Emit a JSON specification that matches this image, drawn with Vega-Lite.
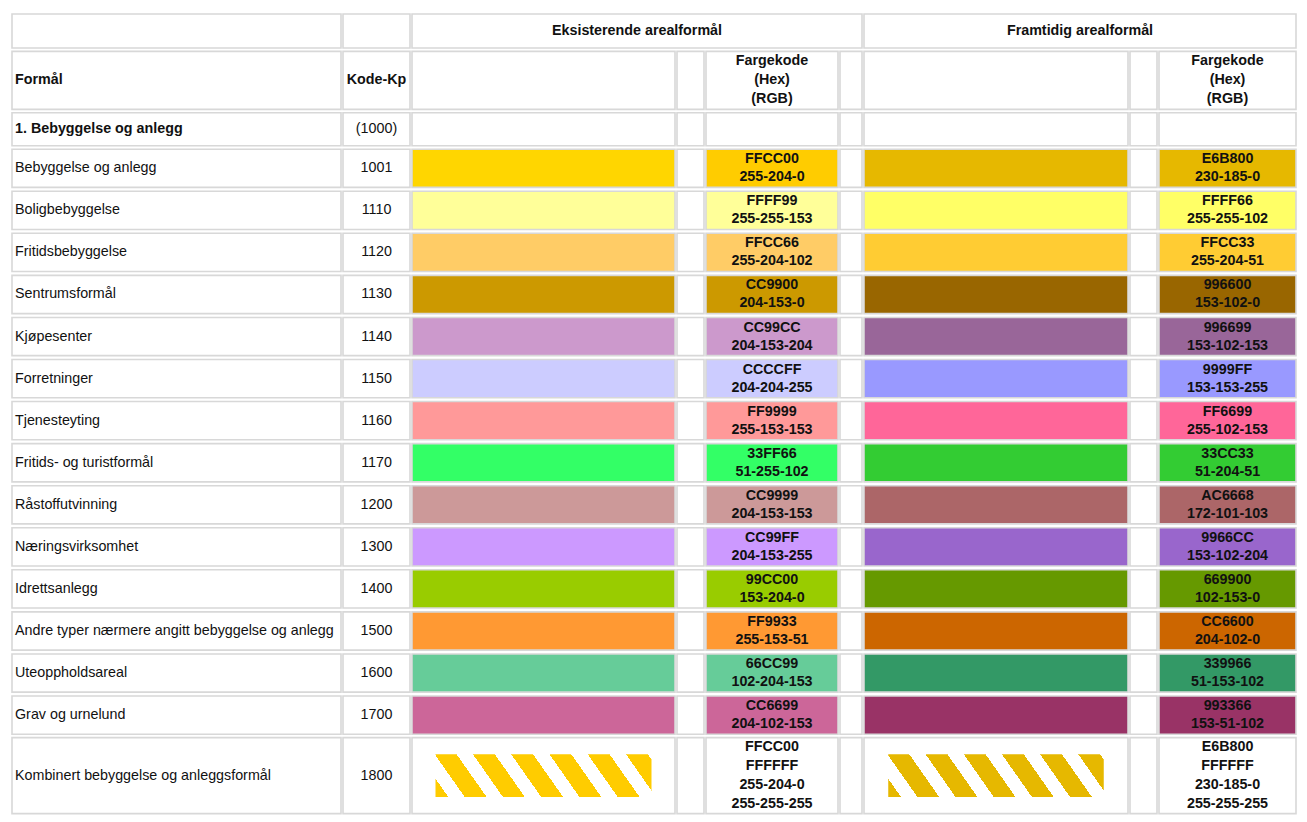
{
  "$schema": "https://vega.github.io/schema/vega-lite/v6.json",
  "background": "#ffffff",
  "padding": {"left": 11, "top": 13, "right": 0, "bottom": 0},
  "config": {
    "view": {"stroke": null},
    "text": {"font": "Liberation Sans", "fontSize": 14.3, "color": "#111111"}
  },
  "datasets": {
    "head": [{"formal": "Formål", "kode": "Kode-Kp", "eks": "Eksisterende arealformål", "fram": "Framtidig arealformål", "farge": ["Fargekode", "(Hex)", "(RGB)"]}],
    "section": [{"formal": "1. Bebyggelse og anlegg", "kode": "(1000)"}],
    "rows": [
      {"formal": "Bebyggelse og anlegg", "kode": "1001", "eks": "FFCC00", "eks_rgb": "255-204-0", "fram": "E6B800", "fram_rgb": "230-185-0"},
      {"formal": "Boligbebyggelse", "kode": "1110", "eks": "FFFF99", "eks_rgb": "255-255-153", "fram": "FFFF66", "fram_rgb": "255-255-102"},
      {"formal": "Fritidsbebyggelse", "kode": "1120", "eks": "FFCC66", "eks_rgb": "255-204-102", "fram": "FFCC33", "fram_rgb": "255-204-51"},
      {"formal": "Sentrumsformål", "kode": "1130", "eks": "CC9900", "eks_rgb": "204-153-0", "fram": "996600", "fram_rgb": "153-102-0"},
      {"formal": "Kjøpesenter", "kode": "1140", "eks": "CC99CC", "eks_rgb": "204-153-204", "fram": "996699", "fram_rgb": "153-102-153"},
      {"formal": "Forretninger", "kode": "1150", "eks": "CCCCFF", "eks_rgb": "204-204-255", "fram": "9999FF", "fram_rgb": "153-153-255"},
      {"formal": "Tjenesteyting", "kode": "1160", "eks": "FF9999", "eks_rgb": "255-153-153", "fram": "FF6699", "fram_rgb": "255-102-153"},
      {"formal": "Fritids- og turistformål", "kode": "1170", "eks": "33FF66", "eks_rgb": "51-255-102", "fram": "33CC33", "fram_rgb": "51-204-51"},
      {"formal": "Råstoffutvinning", "kode": "1200", "eks": "CC9999", "eks_rgb": "204-153-153", "fram": "AC6668", "fram_rgb": "172-101-103"},
      {"formal": "Næringsvirksomhet", "kode": "1300", "eks": "CC99FF", "eks_rgb": "204-153-255", "fram": "9966CC", "fram_rgb": "153-102-204"},
      {"formal": "Idrettsanlegg", "kode": "1400", "eks": "99CC00", "eks_rgb": "153-204-0", "fram": "669900", "fram_rgb": "102-153-0"},
      {"formal": "Andre typer nærmere angitt bebyggelse og anlegg", "kode": "1500", "eks": "FF9933", "eks_rgb": "255-153-51", "fram": "CC6600", "fram_rgb": "204-102-0"},
      {"formal": "Uteoppholdsareal", "kode": "1600", "eks": "66CC99", "eks_rgb": "102-204-153", "fram": "339966", "fram_rgb": "51-153-102"},
      {"formal": "Grav og urnelund", "kode": "1700", "eks": "CC6699", "eks_rgb": "204-102-153", "fram": "993366", "fram_rgb": "153-51-102"}
    ],
    "combined": [{"formal": "Kombinert bebyggelse og anleggsformål", "kode": "1800", "eks_hex": ["FFCC00", "FFFFFF"], "eks_rgb": ["255-204-0", "255-255-255"], "fram_hex": ["E6B800", "FFFFFF"], "fram_rgb": ["230-185-0", "255-255-255"]}]
  },
  "spacing": 1.4,
  "vconcat": [
    {
      "data": {"name": "head"},
      "spacing": 2,
      "bounds": "flush",
      "hconcat": [
        {"width": 329, "height": 34, "mark": {"type": "rect", "fill": "#ffffff", "stroke": "#d8d8d8", "strokeWidth": 1.6}},
        {"width": 67, "height": 34, "mark": {"type": "rect", "fill": "#ffffff", "stroke": "#d8d8d8", "strokeWidth": 1.6}},
        {"width": 450, "height": 34, "layer": [
          {"mark": {"type": "rect", "fill": "#ffffff", "stroke": "#d8d8d8", "strokeWidth": 1.6}},
          {"mark": {"type": "text", "fontWeight": "bold"}, "encoding": {"text": {"field": "eks", "type": "nominal"}}}
        ]},
        {"width": 432, "height": 34, "layer": [
          {"mark": {"type": "rect", "fill": "#ffffff", "stroke": "#d8d8d8", "strokeWidth": 1.6}},
          {"mark": {"type": "text", "fontWeight": "bold"}, "encoding": {"text": {"field": "fram", "type": "nominal"}}}
        ]}
      ]
    },
    {
      "data": {"name": "head"},
      "spacing": 2,
      "bounds": "flush",
      "hconcat": [
        {"width": 329, "height": 58, "layer": [
          {"mark": {"type": "rect", "fill": "#ffffff", "stroke": "#d8d8d8", "strokeWidth": 1.6}},
          {"mark": {"type": "text", "fontWeight": "bold", "align": "left", "dx": 3}, "encoding": {"x": {"datum": 0, "type": "quantitative", "axis": null, "scale": {"domain": [0, 1]}}, "text": {"field": "formal", "type": "nominal"}}}
        ]},
        {"width": 67, "height": 58, "layer": [
          {"mark": {"type": "rect", "fill": "#ffffff", "stroke": "#d8d8d8", "strokeWidth": 1.6}},
          {"mark": {"type": "text", "fontWeight": "bold"}, "encoding": {"text": {"field": "kode", "type": "nominal"}}}
        ]},
        {"width": 263, "height": 58, "mark": {"type": "rect", "fill": "#ffffff", "stroke": "#d8d8d8", "strokeWidth": 1.6}},
        {"width": 27, "height": 58, "mark": {"type": "rect", "fill": "#ffffff", "stroke": "#d8d8d8", "strokeWidth": 1.6}},
        {"width": 132, "height": 58, "layer": [
          {"mark": {"type": "rect", "fill": "#ffffff", "stroke": "#d8d8d8", "strokeWidth": 1.6}},
          {"mark": {"type": "text", "fontWeight": "bold", "lineHeight": 19, "dy": -19}, "encoding": {"text": {"field": "farge", "type": "nominal"}}}
        ]},
        {"width": 22, "height": 58, "mark": {"type": "rect", "fill": "#ffffff", "stroke": "#d8d8d8", "strokeWidth": 1.6}},
        {"width": 264, "height": 58, "mark": {"type": "rect", "fill": "#ffffff", "stroke": "#d8d8d8", "strokeWidth": 1.6}},
        {"width": 27, "height": 58, "mark": {"type": "rect", "fill": "#ffffff", "stroke": "#d8d8d8", "strokeWidth": 1.6}},
        {"width": 137, "height": 58, "layer": [
          {"mark": {"type": "rect", "fill": "#ffffff", "stroke": "#d8d8d8", "strokeWidth": 1.6}},
          {"mark": {"type": "text", "fontWeight": "bold", "lineHeight": 19, "dy": -19}, "encoding": {"text": {"field": "farge", "type": "nominal"}}}
        ]}
      ]
    },
    {
      "data": {"name": "section"},
      "spacing": 2,
      "bounds": "flush",
      "hconcat": [
        {"width": 329, "height": 33, "layer": [
          {"mark": {"type": "rect", "fill": "#ffffff", "stroke": "#d8d8d8", "strokeWidth": 1.6}},
          {"mark": {"type": "text", "fontWeight": "bold", "align": "left", "dx": 3}, "encoding": {"x": {"datum": 0, "type": "quantitative", "axis": null, "scale": {"domain": [0, 1]}}, "text": {"field": "formal", "type": "nominal"}}}
        ]},
        {"width": 67, "height": 33, "layer": [
          {"mark": {"type": "rect", "fill": "#ffffff", "stroke": "#d8d8d8", "strokeWidth": 1.6}},
          {"mark": {"type": "text"}, "encoding": {"text": {"field": "kode", "type": "nominal"}}}
        ]},
        {"width": 263, "height": 33, "mark": {"type": "rect", "fill": "#ffffff", "stroke": "#d8d8d8", "strokeWidth": 1.6}},
        {"width": 27, "height": 33, "mark": {"type": "rect", "fill": "#ffffff", "stroke": "#d8d8d8", "strokeWidth": 1.6}},
        {"width": 132, "height": 33, "mark": {"type": "rect", "fill": "#ffffff", "stroke": "#d8d8d8", "strokeWidth": 1.6}},
        {"width": 22, "height": 33, "mark": {"type": "rect", "fill": "#ffffff", "stroke": "#d8d8d8", "strokeWidth": 1.6}},
        {"width": 264, "height": 33, "mark": {"type": "rect", "fill": "#ffffff", "stroke": "#d8d8d8", "strokeWidth": 1.6}},
        {"width": 27, "height": 33, "mark": {"type": "rect", "fill": "#ffffff", "stroke": "#d8d8d8", "strokeWidth": 1.6}},
        {"width": 137, "height": 33, "mark": {"type": "rect", "fill": "#ffffff", "stroke": "#d8d8d8", "strokeWidth": 1.6}}
      ]
    },
    {
      "data": {"name": "rows"},
      "spacing": 2,
      "bounds": "flush",
      "resolve": {"scale": {"fill": "independent"}},
      "hconcat": [
        {"width": 329, "height": 585, "layer": [
          {"mark": {"type": "rect", "fill": "#ffffff", "stroke": "#d8d8d8", "strokeWidth": 1.6}, "encoding": {"y": {"field": "formal", "type": "nominal", "sort": null, "axis": null, "scale": {"paddingInner": 0.092, "paddingOuter": 0}}}},
          {"mark": {"type": "text", "align": "left", "dx": 3}, "encoding": {"y": {"field": "formal", "type": "nominal", "sort": null, "axis": null, "scale": {"paddingInner": 0.092, "paddingOuter": 0}}, "x": {"datum": 0, "type": "quantitative", "axis": null, "scale": {"domain": [0, 1]}}, "text": {"field": "formal", "type": "nominal"}}}
        ]},
        {"width": 67, "height": 585, "layer": [
          {"mark": {"type": "rect", "fill": "#ffffff", "stroke": "#d8d8d8", "strokeWidth": 1.6}, "encoding": {"y": {"field": "formal", "type": "nominal", "sort": null, "axis": null, "scale": {"paddingInner": 0.092, "paddingOuter": 0}}}},
          {"mark": {"type": "text"}, "encoding": {"y": {"field": "formal", "type": "nominal", "sort": null, "axis": null, "scale": {"paddingInner": 0.092, "paddingOuter": 0}}, "text": {"field": "kode", "type": "nominal"}}}
        ]},
        {"width": 263, "height": 585, "mark": {"type": "rect", "stroke": "#d8d8d8", "strokeWidth": 1.6}, "encoding": {
          "y": {"field": "formal", "type": "nominal", "sort": null, "axis": null, "scale": {"paddingInner": 0.092, "paddingOuter": 0}},
          "fill": {"field": "eks", "type": "nominal", "legend": null, "scale": {"domain": ["FFCC00","FFFF99","FFCC66","CC9900","CC99CC","CCCCFF","FF9999","33FF66","CC9999","CC99FF","99CC00","FF9933","66CC99","CC6699"], "range": ["#FFD600","#FFFF99","#FFCC66","#CC9900","#CC99CC","#CCCCFF","#FF9999","#33FF66","#CC9999","#CC99FF","#99CC00","#FF9933","#66CC99","#CC6699"]}}
        }},
        {"width": 27, "height": 585, "mark": {"type": "rect", "fill": "#ffffff", "stroke": "#d8d8d8", "strokeWidth": 1.6}, "encoding": {"y": {"field": "formal", "type": "nominal", "sort": null, "axis": null, "scale": {"paddingInner": 0.092, "paddingOuter": 0}}}},
        {"width": 132, "height": 585, "layer": [
          {"mark": {"type": "rect", "stroke": "#d8d8d8", "strokeWidth": 1.6}, "encoding": {
            "y": {"field": "formal", "type": "nominal", "sort": null, "axis": null, "scale": {"paddingInner": 0.092, "paddingOuter": 0}},
            "fill": {"field": "eks", "type": "nominal", "legend": null, "scale": {"domain": ["FFCC00","FFFF99","FFCC66","CC9900","CC99CC","CCCCFF","FF9999","33FF66","CC9999","CC99FF","99CC00","FF9933","66CC99","CC6699"], "range": ["#FFCC00","#FFFF99","#FFCC66","#CC9900","#CC99CC","#CCCCFF","#FF9999","#33FF66","#CC9999","#CC99FF","#99CC00","#FF9933","#66CC99","#CC6699"]}}
          }},
          {"mark": {"type": "text", "fontWeight": "bold", "dy": -9}, "encoding": {"y": {"field": "formal", "type": "nominal", "sort": null, "axis": null, "scale": {"paddingInner": 0.092, "paddingOuter": 0}}, "text": {"field": "eks", "type": "nominal"}}},
          {"mark": {"type": "text", "fontWeight": "bold", "dy": 9}, "encoding": {"y": {"field": "formal", "type": "nominal", "sort": null, "axis": null, "scale": {"paddingInner": 0.092, "paddingOuter": 0}}, "text": {"field": "eks_rgb", "type": "nominal"}}}
        ]},
        {"width": 22, "height": 585, "mark": {"type": "rect", "fill": "#ffffff", "stroke": "#d8d8d8", "strokeWidth": 1.6}, "encoding": {"y": {"field": "formal", "type": "nominal", "sort": null, "axis": null, "scale": {"paddingInner": 0.092, "paddingOuter": 0}}}},
        {"width": 264, "height": 585, "mark": {"type": "rect", "stroke": "#d8d8d8", "strokeWidth": 1.6}, "encoding": {
          "y": {"field": "formal", "type": "nominal", "sort": null, "axis": null, "scale": {"paddingInner": 0.092, "paddingOuter": 0}},
          "fill": {"field": "fram", "type": "nominal", "legend": null, "scale": {"domain": ["E6B800","FFFF66","FFCC33","996600","996699","9999FF","FF6699","33CC33","AC6668","9966CC","669900","CC6600","339966","993366"], "range": ["#E6B800","#FFFF66","#FFCC33","#996600","#996699","#9999FF","#FF6699","#33CC33","#AC6668","#9966CC","#669900","#CC6600","#339966","#993366"]}}
        }},
        {"width": 27, "height": 585, "mark": {"type": "rect", "fill": "#ffffff", "stroke": "#d8d8d8", "strokeWidth": 1.6}, "encoding": {"y": {"field": "formal", "type": "nominal", "sort": null, "axis": null, "scale": {"paddingInner": 0.092, "paddingOuter": 0}}}},
        {"width": 137, "height": 585, "layer": [
          {"mark": {"type": "rect", "stroke": "#d8d8d8", "strokeWidth": 1.6}, "encoding": {
            "y": {"field": "formal", "type": "nominal", "sort": null, "axis": null, "scale": {"paddingInner": 0.092, "paddingOuter": 0}},
            "fill": {"field": "fram", "type": "nominal", "legend": null, "scale": {"domain": ["E6B800","FFFF66","FFCC33","996600","996699","9999FF","FF6699","33CC33","AC6668","9966CC","669900","CC6600","339966","993366"], "range": ["#E6B800","#FFFF66","#FFCC33","#996600","#996699","#9999FF","#FF6699","#33CC33","#AC6668","#9966CC","#669900","#CC6600","#339966","#993366"]}}
          }},
          {"mark": {"type": "text", "fontWeight": "bold", "dy": -9}, "encoding": {"y": {"field": "formal", "type": "nominal", "sort": null, "axis": null, "scale": {"paddingInner": 0.092, "paddingOuter": 0}}, "text": {"field": "fram", "type": "nominal"}}},
          {"mark": {"type": "text", "fontWeight": "bold", "dy": 9}, "encoding": {"y": {"field": "formal", "type": "nominal", "sort": null, "axis": null, "scale": {"paddingInner": 0.092, "paddingOuter": 0}}, "text": {"field": "fram_rgb", "type": "nominal"}}}
        ]}
      ]
    },
    {
      "data": {"name": "combined"},
      "spacing": 2,
      "bounds": "flush",
      "hconcat": [
        {"width": 329, "height": 76, "layer": [
          {"mark": {"type": "rect", "fill": "#ffffff", "stroke": "#d8d8d8", "strokeWidth": 1.6}},
          {"mark": {"type": "text", "align": "left", "dx": 3}, "encoding": {"x": {"datum": 0, "type": "quantitative", "axis": null, "scale": {"domain": [0, 1]}}, "text": {"field": "formal", "type": "nominal"}}}
        ]},
        {"width": 67, "height": 76, "layer": [
          {"mark": {"type": "rect", "fill": "#ffffff", "stroke": "#d8d8d8", "strokeWidth": 1.6}},
          {"mark": {"type": "text"}, "encoding": {"text": {"field": "kode", "type": "nominal"}}}
        ]},
        {"width": 263, "height": 76, "layer": [
          {"mark": {"type": "rect", "fill": "#ffffff", "stroke": "#d8d8d8", "strokeWidth": 1.6}},
          {"mark": {"type": "rect", "fill": {"gradient": "linear", "x1": 0, "y1": 1, "x2": 1.1174, "y2": 0.8448, "stops": [
            {"offset": 0, "color": "#FFCC00"}, {"offset": 0.052, "color": "#FFCC00"}, {"offset": 0.052, "color": "#ffffff"}, {"offset": 0.1185, "color": "#ffffff"},
            {"offset": 0.1185, "color": "#FFCC00"}, {"offset": 0.2075, "color": "#FFCC00"}, {"offset": 0.2075, "color": "#ffffff"}, {"offset": 0.274, "color": "#ffffff"},
            {"offset": 0.274, "color": "#FFCC00"}, {"offset": 0.363, "color": "#FFCC00"}, {"offset": 0.363, "color": "#ffffff"}, {"offset": 0.4295, "color": "#ffffff"},
            {"offset": 0.4295, "color": "#FFCC00"}, {"offset": 0.5185, "color": "#FFCC00"}, {"offset": 0.5185, "color": "#ffffff"}, {"offset": 0.585, "color": "#ffffff"},
            {"offset": 0.585, "color": "#FFCC00"}, {"offset": 0.674, "color": "#FFCC00"}, {"offset": 0.674, "color": "#ffffff"}, {"offset": 0.7405, "color": "#ffffff"},
            {"offset": 0.7405, "color": "#FFCC00"}, {"offset": 0.8295, "color": "#FFCC00"}, {"offset": 0.8295, "color": "#ffffff"}, {"offset": 0.896, "color": "#ffffff"},
            {"offset": 0.896, "color": "#FFCC00"}, {"offset": 0.985, "color": "#FFCC00"}, {"offset": 0.985, "color": "#ffffff"}, {"offset": 1, "color": "#ffffff"}
          ]}},
          "encoding": {
            "x": {"field": "kode", "type": "nominal", "axis": null, "scale": {"paddingInner": 0, "paddingOuter": 0.1088}},
            "y": {"field": "kode", "type": "nominal", "axis": null, "scale": {"paddingInner": 0, "paddingOuter": 0.39}}
          }}
        ]},
        {"width": 27, "height": 76, "mark": {"type": "rect", "fill": "#ffffff", "stroke": "#d8d8d8", "strokeWidth": 1.6}},
        {"width": 132, "height": 76, "layer": [
          {"mark": {"type": "rect", "fill": "#ffffff", "stroke": "#d8d8d8", "strokeWidth": 1.6}},
          {"mark": {"type": "text", "fontWeight": "bold", "lineHeight": 19, "dy": -28.5}, "encoding": {"text": {"field": "eks_hex", "type": "nominal"}}},
          {"mark": {"type": "text", "fontWeight": "bold", "lineHeight": 19, "dy": 9.5}, "encoding": {"text": {"field": "eks_rgb", "type": "nominal"}}}
        ]},
        {"width": 22, "height": 76, "mark": {"type": "rect", "fill": "#ffffff", "stroke": "#d8d8d8", "strokeWidth": 1.6}},
        {"width": 264, "height": 76, "layer": [
          {"mark": {"type": "rect", "fill": "#ffffff", "stroke": "#d8d8d8", "strokeWidth": 1.6}},
          {"mark": {"type": "rect", "fill": {"gradient": "linear", "x1": 0, "y1": 1, "x2": 1.1174, "y2": 0.8448, "stops": [
            {"offset": 0, "color": "#E6B800"}, {"offset": 0.052, "color": "#E6B800"}, {"offset": 0.052, "color": "#ffffff"}, {"offset": 0.1185, "color": "#ffffff"},
            {"offset": 0.1185, "color": "#E6B800"}, {"offset": 0.2075, "color": "#E6B800"}, {"offset": 0.2075, "color": "#ffffff"}, {"offset": 0.274, "color": "#ffffff"},
            {"offset": 0.274, "color": "#E6B800"}, {"offset": 0.363, "color": "#E6B800"}, {"offset": 0.363, "color": "#ffffff"}, {"offset": 0.4295, "color": "#ffffff"},
            {"offset": 0.4295, "color": "#E6B800"}, {"offset": 0.5185, "color": "#E6B800"}, {"offset": 0.5185, "color": "#ffffff"}, {"offset": 0.585, "color": "#ffffff"},
            {"offset": 0.585, "color": "#E6B800"}, {"offset": 0.674, "color": "#E6B800"}, {"offset": 0.674, "color": "#ffffff"}, {"offset": 0.7405, "color": "#ffffff"},
            {"offset": 0.7405, "color": "#E6B800"}, {"offset": 0.8295, "color": "#E6B800"}, {"offset": 0.8295, "color": "#ffffff"}, {"offset": 0.896, "color": "#ffffff"},
            {"offset": 0.896, "color": "#E6B800"}, {"offset": 0.985, "color": "#E6B800"}, {"offset": 0.985, "color": "#ffffff"}, {"offset": 1, "color": "#ffffff"}
          ]}},
          "encoding": {
            "x": {"field": "kode", "type": "nominal", "axis": null, "scale": {"paddingInner": 0, "paddingOuter": 0.1125}},
            "y": {"field": "kode", "type": "nominal", "axis": null, "scale": {"paddingInner": 0, "paddingOuter": 0.39}}
          }}
        ]},
        {"width": 27, "height": 76, "mark": {"type": "rect", "fill": "#ffffff", "stroke": "#d8d8d8", "strokeWidth": 1.6}},
        {"width": 137, "height": 76, "layer": [
          {"mark": {"type": "rect", "fill": "#ffffff", "stroke": "#d8d8d8", "strokeWidth": 1.6}},
          {"mark": {"type": "text", "fontWeight": "bold", "lineHeight": 19, "dy": -28.5}, "encoding": {"text": {"field": "fram_hex", "type": "nominal"}}},
          {"mark": {"type": "text", "fontWeight": "bold", "lineHeight": 19, "dy": 9.5}, "encoding": {"text": {"field": "fram_rgb", "type": "nominal"}}}
        ]}
      ]
    }
  ]
}
